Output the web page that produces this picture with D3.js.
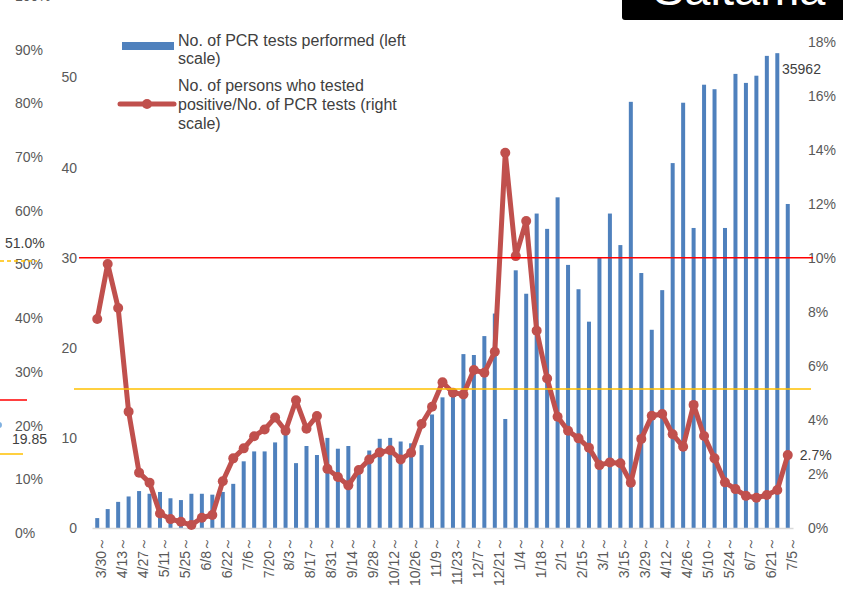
<!DOCTYPE html>
<html>
<head>
<meta charset="utf-8">
<script src="https://cdnjs.cloudflare.com/ajax/libs/d3/7.8.5/d3.min.js"></script>
<style>
	body { margin: 0; background: #fff; }
	svg { display: block; font-family: 'Liberation Sans', Arial, sans-serif; }
	.tick text { fill: #595959; font-size: 14px; }
</style>
</head>
<body>
<div id="container"></div>
<script>
// weekly start dates (2020/3/30 - 2021/7/5)
var weeks = ['3/30','4/6','4/13','4/20','4/27','5/4','5/11','5/18','5/25','6/1','6/8','6/15','6/22','6/29',
	'7/6','7/13','7/20','7/27','8/3','8/10','8/17','8/24','8/31','9/7','9/14','9/21','9/28','10/5','10/12',
	'10/19','10/26','11/2','11/9','11/16','11/23','11/30','12/7','12/14','12/21','12/28','1/4','1/11','1/18',
	'1/25','2/1','2/8','2/15','2/22','3/1','3/8','3/15','3/22','3/29','4/5','4/12','4/19','4/26','5/3','5/10',
	'5/17','5/24','5/31','6/7','6/14','6/21','6/28','7/5'];

// No. of PCR tests performed (thousands, left scale)
var tests = [1.1, 2.1, 2.9, 3.5, 4.1, 3.8, 4.0, 3.3, 3.1, 3.8, 3.8, 3.7, 4.0, 4.9,
	7.4, 8.5, 8.5, 9.5, 10.4, 7.2, 9.1, 8.1, 10.0, 8.8, 9.1, 6.0, 8.6, 9.9, 10.0,
	9.6, 9.4, 9.2, 12.6, 14.5, 15.5, 19.3, 19.2, 21.3, 23.8, 12.1, 28.6, 26.0, 34.9,
	33.2, 36.7, 29.2, 26.5, 22.9, 30.0, 34.9, 31.4, 47.3, 28.3, 22.0, 26.4, 40.5, 47.2, 33.3, 49.2,
	48.7, 33.3, 50.4, 49.4, 50.2, 52.4, 52.7, 35.962];

// positive / PCR tests (%, right scale)
var positivity = [7.74, 9.78, 8.15, 4.31, 2.05, 1.68, 0.54, 0.33, 0.23, 0.11, 0.38, 0.48, 1.73, 2.58,
	2.95, 3.40, 3.65, 4.09, 3.60, 4.73, 3.68, 4.15, 2.19, 1.89, 1.58, 2.15, 2.54, 2.80, 2.88,
	2.54, 2.79, 3.85, 4.49, 5.40, 5.01, 4.95, 5.85, 5.75, 6.53, 13.9, 10.07, 11.37, 7.31,
	5.54, 4.12, 3.60, 3.32, 2.97, 2.33, 2.43, 2.40, 1.68, 3.30, 4.16, 4.22, 3.47, 3.01, 4.56, 3.41,
	2.58, 1.69, 1.44, 1.19, 1.12, 1.22, 1.41, 2.70];

var leftTicks = [0, 10, 20, 30, 40, 50],
	rightTicks = [0, 2, 4, 6, 8, 10, 12, 14, 16, 18],
	outerTicks = [0, 10, 20, 30, 40, 50, 60, 70, 80, 90, 100];

var redLineAt = 30,      // left scale
	yellowLineAt = 5.15; // right scale (%)

var width = 843,
	height = 592;

var canvas = d3.select('#container').append('svg')
	.attr('width', width)
	.attr('height', height);

var xScale = d3.scaleBand().domain(weeks).range([92, 793]),
	yLeft = d3.scaleLinear().domain([0, 50]).range([528, 77.5]),
	yRight = d3.scaleLinear().domain([0, 18]).range([528, 42]),
	yOuter = d3.scaleLinear().domain([0, 100]).range([533, -4]);

var cx = (d) => xScale(d) + xScale.bandwidth() / 2;

// outer (cropped) axis on the far left
canvas.append('g')
	.attr('transform', 'translate(13,0)')
	.call(d3.axisRight(yOuter).tickValues(outerTicks).tickSize(0).tickPadding(2).tickFormat((d) => d + '%'))
	.call((g) => g.select('.domain').remove());

// left axis
canvas.append('g')
	.attr('transform', 'translate(80,0)')
	.call(d3.axisLeft(yLeft).tickValues(leftTicks).tickSize(0).tickPadding(3))
	.call((g) => g.select('.domain').remove());

// right axis
canvas.append('g')
	.attr('transform', 'translate(805,0)')
	.call(d3.axisRight(yRight).tickValues(rightTicks).tickSize(0).tickPadding(3).tickFormat((d) => d + '%'))
	.call((g) => g.select('.domain').remove());

// bars
canvas.append('g').selectAll('rect')
	.data(tests)
	.enter()
		.append('rect')
		.attr('x', (d, i) => cx(weeks[i]) - 2)
		.attr('width', 4)
		.attr('y', (d) => yLeft(d))
		.attr('height', (d) => yLeft(0) - yLeft(d))
		.attr('fill', '#4f81bd');

// x axis
var xAxis = canvas.append('g')
	.attr('transform', 'translate(0,528)')
	.call(d3.axisBottom(xScale).tickValues(weeks.filter((d, i) => i % 2 === 0)).tickSize(0).tickFormat((d) => d + '～'));
xAxis.select('.domain').attr('stroke', '#d9d9d9').attr('stroke-width', 1.5);
xAxis.selectAll('text')
	.attr('transform', 'rotate(-90)')
	.attr('text-anchor', 'end')
	.attr('x', -9)
	.attr('y', 4)
	.attr('dy', '0.35em');

// positivity line
var line = d3.line()
	.x((d, i) => cx(weeks[i]))
	.y((d) => yRight(d));

canvas.append('path')
	.datum(positivity)
	.attr('d', line)
	.attr('fill', 'none')
	.attr('stroke', '#c0504d')
	.attr('stroke-width', 5)
	.attr('stroke-linejoin', 'round');

canvas.append('g').selectAll('circle')
	.data(positivity)
	.enter()
		.append('circle')
		.attr('cx', (d, i) => cx(weeks[i]))
		.attr('cy', (d) => yRight(d))
		.attr('r', 5)
		.attr('fill', '#c0504d');

// reference lines
canvas.append('line')
	.attr('x1', 79).attr('x2', 813)
	.attr('y1', yLeft(redLineAt)).attr('y2', yLeft(redLineAt))
	.attr('stroke', '#ff0000').attr('stroke-width', 1.5);
canvas.append('line')
	.attr('x1', 74).attr('x2', 811)
	.attr('y1', yRight(yellowLineAt)).attr('y2', yRight(yellowLineAt))
	.attr('stroke', '#ffc000').attr('stroke-width', 1.5);

// data labels
var last = weeks.length - 1;
canvas.append('text')
	.attr('x', 782).attr('y', 69).attr('dy', '0.35em')
	.attr('font-size', 14).attr('fill', '#404040')
	.text(Math.round(tests[last] * 1000));
canvas.append('text')
	.attr('x', cx(weeks[last]) + 12).attr('y', yRight(positivity[last])).attr('dy', '0.35em')
	.attr('font-size', 14).attr('fill', '#404040')
	.text(positivity[last].toFixed(1) + '%');

// legend
var legend = canvas.append('g').attr('font-size', 16).attr('fill', '#404040');
legend.append('rect').attr('x', 122).attr('y', 42).attr('width', 52).attr('height', 8).attr('fill', '#4f81bd');
legend.append('line').attr('x1', 120).attr('x2', 174).attr('y1', 104).attr('y2', 104)
	.attr('stroke', '#c0504d').attr('stroke-width', 5).attr('stroke-linecap', 'round');
legend.append('circle').attr('cx', 147).attr('cy', 104).attr('r', 5).attr('fill', '#c0504d');
[['No. of PCR tests performed (left', 45.5], ['scale)', 64], ['No. of persons who tested', 91],
 ['positive/No. of PCR tests (right', 110], ['scale)', 128.5]].forEach((t) => {
	legend.append('text').attr('x', 178).attr('y', t[1]).text(t[0]);
});

// cropped bits from the neighbouring chart on the left
canvas.append('line').attr('x1', 0).attr('x2', 37).attr('y1', 261).attr('y2', 261)
	.attr('stroke', '#ffc000').attr('stroke-width', 1.5).attr('stroke-dasharray', '4,3');
canvas.append('text').attr('x', 5).attr('y', 243).attr('dy', '0.35em')
	.attr('font-size', 14).attr('fill', '#404040').text('51.0%');
canvas.append('line').attr('x1', 0).attr('x2', 27).attr('y1', 400).attr('y2', 400)
	.attr('stroke', '#ff0000').attr('stroke-width', 1.5);
canvas.append('circle').attr('cx', -1).attr('cy', 425).attr('r', 3).attr('fill', '#7fb0e0');
canvas.append('text').attr('x', 12).attr('y', 439).attr('dy', '0.35em')
	.attr('font-size', 14).attr('fill', '#404040').text('19.85');
canvas.append('line').attr('x1', 0).attr('x2', 23).attr('y1', 454).attr('y2', 454)
	.attr('stroke', '#ffc000').attr('stroke-width', 1.5);

// title box (cut off at the top)
canvas.append('rect')
	.attr('x', 622).attr('y', -10).attr('width', 240).attr('height', 30).attr('rx', 3)
	.attr('fill', '#000');
canvas.append('text')
	.attr('x', 653).attr('y', 5)
	.attr('font-size', 47).attr('fill', '#fff')
	.text('Saitama');
</script>
</body>
</html>
